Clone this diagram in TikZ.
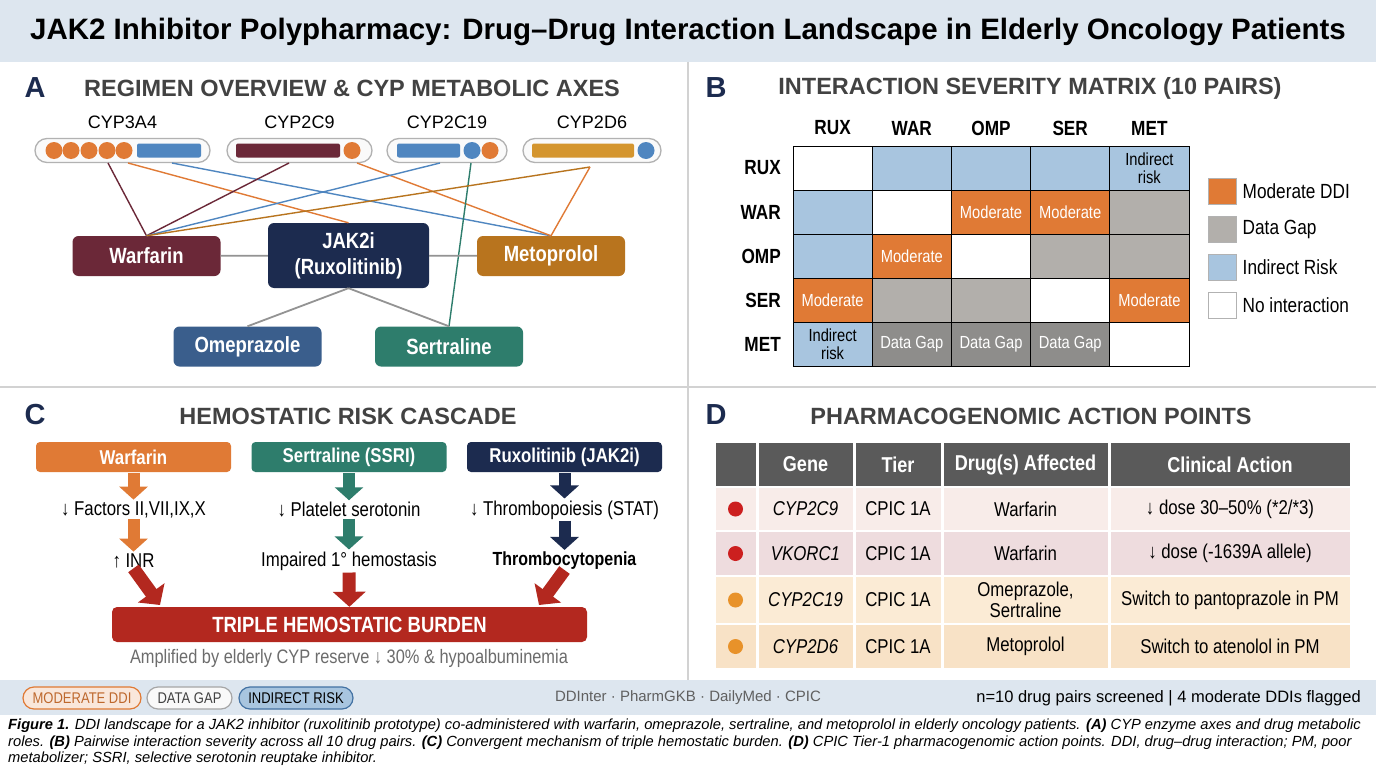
\documentclass[tikz,border=0pt]{standalone}
\usepackage{fontspec}
\setmainfont{Liberation Sans}[FakeStretch=0.84]
\newfontfamily\widefont{Liberation Sans}
\usetikzlibrary{arrows.meta,positioning}

\definecolor{navy}{HTML}{1C2B4F}
\definecolor{wine}{HTML}{6B2838}
\definecolor{amber}{HTML}{B8741E}
\definecolor{ochre}{HTML}{D4952E}
\definecolor{tang}{HTML}{E07A35}
\definecolor{cypblue}{HTML}{4F86C0}
\definecolor{omeblue}{HTML}{3A5E8C}
\definecolor{sertgreen}{HTML}{2E7D6C}
\definecolor{softblue}{HTML}{A8C5DF}
\definecolor{gapgray}{HTML}{B2AFAB}
\definecolor{gapdark}{HTML}{8E8D8B}
\definecolor{burden}{HTML}{B3281F}
\definecolor{hdrgray}{HTML}{5A5A5A}
\definecolor{band}{HTML}{DDE6EF}
\definecolor{inkgray}{HTML}{424242}
\definecolor{rowa}{HTML}{F8ECE9}
\definecolor{rowb}{HTML}{EEDCDE}
\definecolor{rowc}{HTML}{FBEBD5}
\definecolor{rowd}{HTML}{F8E2C6}
\definecolor{dotred}{HTML}{CC1F1F}
\definecolor{dotorange}{HTML}{E8922A}

\newcommand{\fsz}[2]{\fontsize{#1}{#2}\selectfont}

\begin{document}
\begin{tikzpicture}[x=1pt,y=-1pt,inner sep=0pt,
    drug/.style={rounded corners=6pt,text=white,font=\fsz{22}{26}\bfseries,minimum width=148pt,minimum height=40pt,align=center},
    pill/.style={draw=gray!60,fill=gray!4,rounded corners=12pt,line width=1.3pt,minimum height=24pt},
    cyp/.style={font=\widefont\fsz{18}{22}},
    link/.style={line width=1.4pt},
    tie/.style={draw=gray!85,line width=1.8pt},
    ptitle/.style={font=\widefont\fsz{23.5}{27}\bfseries,text=inkgray},
    pletter/.style={font=\widefont\fsz{29}{32}\bfseries,text=navy},
    cell/.style={draw=black,line width=1pt,minimum width=79.2pt,minimum height=44pt,align=center,font=\fsz{17.5}{18}},
    cellN/.style={cell,fill=white,node contents={}},
    cellI/.style={cell,fill=softblue,node contents={}},
    cellR/.style={cell,fill=softblue,node contents={Indirect\\risk}},
    cellM/.style={cell,fill=tang,text=white,node contents={Moderate}},
    cellG/.style={cell,fill=gapgray,node contents={}},
    cellD/.style={cell,fill=gapdark,text=white,node contents={Data Gap}},
    key/.style={draw=gray!60,line width=1pt,minimum width=28pt,minimum height=26pt},
    cbox/.style={rounded corners=4pt,minimum width=195pt,minimum height=30pt,text=white,font=\fsz{20}{24}\bfseries},
    stage/.style={font=\fsz{20}{24}},
    flow/.style={line width=12pt,-{Triangle[length=13pt,width=28pt]},shorten <=1pt,shorten >=2pt},
    hit/.style={draw=burden,line width=13pt,-{Triangle[length=15pt,width=32pt]}},
    th/.style={text=white,font=\fsz{21.5}{24}\bfseries},
    td/.style={font=\fsz{20}{21},align=center},
    dot/.style={circle,minimum size=15pt},
    tag/.style={rounded corners=11pt,minimum height=22pt,line width=1.2pt,font=\fsz{15.5}{18}}]

\useasboundingbox (0,0) rectangle (1376,768);
\fill[white] (0,0) rectangle (1376,768);
\fill[band] (0,0) rectangle (1376,62);
\fill[band] (0,680) rectangle (1376,715);
\draw[gray!35,line width=1.5pt] (688,62) -- (688,680) (0,387) -- (1376,387);

\node[font=\widefont\fsz{29.5}{34}\bfseries] (title) at (688,32) {JAK2 Inhibitor Polypharmacy: Drug–Drug Interaction Landscape in Elderly Oncology Patients};

% A: regimen and CYP axes
\node[pletter] (la) at (35,88) {A};
\node[ptitle] (ta) at (352,88) {REGIMEN OVERVIEW \& CYP METABOLIC AXES};

\node[pill,minimum width=175pt] (p3a4) at (122.5,150.5) {};
\node[pill,minimum width=145pt] (p2c9) at (299.5,150.5) {};
\node[pill,minimum width=120pt] (p2c19) at (447,150.5) {};
\node[pill,minimum width=138pt] (p2d6) at (592,150.5) {};
\node[cyp,above=9pt of p3a4] {CYP3A4};
\node[cyp,above=9pt of p2c9] {CYP2C9};
\node[cyp,above=9pt of p2c19] {CYP2C19};
\node[cyp,above=9pt of p2d6] {CYP2D6};

\foreach \x in {54,71,89,107,124} \fill[tang] (\x,150.5) circle (8.5);
\fill[cypblue,rounded corners=2pt] (137,143.5) rectangle (201,157.5);
\fill[wine,rounded corners=2pt] (236,143.5) rectangle (340,157.5);
\fill[tang] (352,150.5) circle (8.5);
\fill[cypblue,rounded corners=2pt] (397,143.5) rectangle (460,157.5);
\fill[cypblue] (472,150.5) circle (8.5);
\fill[tang] (490,150.5) circle (8.5);
\fill[ochre,rounded corners=2pt] (532,143.5) rectangle (634,157.5);
\fill[cypblue] (646,150.5) circle (8.5);

\node[drug,fill=wine] (war) at (146.5,256) {Warfarin};
\node[drug,fill=navy,minimum width=161pt,minimum height=65pt] (jak) at (348.5,255.5) {JAK2i\\(Ruxolitinib)};
\node[drug,fill=amber] (met) at (551,256) {Metoprolol};
\node[drug,fill=omeblue] (ome) at (247.5,346.5) {Omeprazole};
\node[drug,fill=sertgreen] (ser) at (449,346.5) {Sertraline};

\coordinate (a1) at (108,163);
\coordinate (a2) at (128,163);
\coordinate (a3) at (172,163);
\coordinate (b1) at (289,163);
\coordinate (b2) at (357,163);
\coordinate (c1) at (440,163);
\coordinate (c2) at (471,163);
\coordinate (d1) at (590,167);

\draw[link,wine] (a1) -- (war.north);
\draw[link,tang] (a2) -- (jak.north);
\draw[link,cypblue] (a3) -- (met.north);
\draw[link,wine] (b1) -- (war.north);
\draw[link,tang] (b2) -- (met.north);
\draw[link,cypblue] (c1) -- (war.north);
\draw[link,sertgreen] (c2) -- (ser.north);
\draw[link,amber] (d1) -- (war.north);
\draw[link,tang] (d1) -- (met.north);

\draw[tie] (war) -- (jak);
\draw[tie] (jak) -- (met);
\draw[tie] (jak.south) -- (ome.north);
\draw[tie] (jak.south) -- (ser.north);

% B: severity matrix
\node[pletter] (lb) at (716,88) {B};
\node[ptitle] (tb) at (1030,88) {INTERACTION SEVERITY MATRIX (10 PAIRS)};

\foreach \lbl [count=\j] in {RUX,WAR,OMP,SER,MET} {
  \node[font=\fsz{20.5}{24}\bfseries] (col\j) at ({793+79.2*(\j-0.5)},128) {\lbl};
  \node[font=\fsz{20.5}{24}\bfseries,anchor=east] (row\j) at (781,{146+44*(\j-0.5)}) {\lbl};
}
\foreach \row [count=\i] in {{N,I,I,I,R},{I,N,M,M,G},{I,M,N,G,G},{M,G,G,N,M},{R,D,D,D,N}}
  \foreach \c [count=\j] in \row
    \node[name=m\i\j,at={({793+79.2*(\j-0.5)},{146+44*(\i-0.5)})},cell\c];

\foreach \c/\t [count=\k] in {tang/Moderate DDI,gapgray/Data Gap,softblue/Indirect Risk,white/No interaction} {
  \node[key,fill=\c] (key\k) at (1222,{191+38*(\k-1)}) {};
  \node[right=6pt of key\k,font=\fsz{20.5}{22}] {\t};
}

% C: hemostatic cascade
\node[pletter] (lc) at (35,415) {C};
\node[ptitle] (tc) at (348,416) {HEMOSTATIC RISK CASCADE};

\node[cbox,fill=tang] (cw) at (133.5,457) {Warfarin};
\node[cbox,fill=sertgreen] (cs) at (349,457) {Sertraline (SSRI)};
\node[cbox,fill=navy] (cr) at (564.5,457) {Ruxolitinib (JAK2i)};

\node[stage] (cw1) at (133.5,510) {↓ Factors II,VII,IX,X};
\node[stage] (cs1) at (349,510) {↓ Platelet serotonin};
\node[stage] (cr1) at (564.5,510) {↓ Thrombopoiesis (STAT)};
\node[stage] (cw2) at (133.5,561) {↑ INR};
\node[stage] (cs2) at (349,561) {Impaired 1° hemostasis};
\node[stage,font=\fsz{19}{24}\bfseries] (cr2) at (564.5,561) {Thrombocytopenia};

\draw[flow,tang] (cw) -- (cw1);
\draw[flow,tang] (cw1) -- (cw2);
\draw[flow,sertgreen] (cs) -- (cs1);
\draw[flow,sertgreen] (cs1) -- (cs2);
\draw[flow,navy] (cr) -- (cr1);
\draw[flow,navy] (cr1) -- (cr2);

\node[fill=burden,rounded corners=5pt,minimum width=475pt,minimum height=35pt,text=white,font=\fsz{22}{26}\bfseries] (tri) at (349.5,624.5) {TRIPLE HEMOSTATIC BURDEN};
\coordinate (tl) at (160,605);
\coordinate (tr) at (539,605);
\draw[hit] (cw2.south) -- (tl);
\draw[hit,shorten <=2pt] (cs2) -- (tri);
\draw[hit] (cr2.south) -- (tr);

\node[font=\fsz{19.5}{22},text=gray!85!black] (amp) at (349,658) {Amplified by elderly CYP reserve ↓ 30\% \& hypoalbuminemia};

% D: pharmacogenomic table
\node[pletter] (ld) at (716,415) {D};
\node[ptitle] (td) at (1031,416) {PHARMACOGENOMIC ACTION POINTS};

\foreach \ya/\yb/\col in {443/486/hdrgray,488/530/rowa,532/575/rowb,577/623/rowc,625/668/rowd}
  \foreach \xa/\xb in {714/757,757/854,854/942,942/1109,1109/1351}
    \fill[\col] (\xa+1.5,\ya) rectangle (\xb-1.5,\yb);

\node[th] (hg) at (805.5,464.5) {Gene};
\node[th] (ht) at (898,464.5) {Tier};
\node[th] (hd) at (1025.5,464.5) {Drug(s) Affected};
\node[th] (ha) at (1230,464.5) {Clinical Action};

\foreach \y/\c/\g/\d/\a in {509/dotred/CYP2C9/Warfarin/{↓ dose 30–50\% (*2/*3)},
    553.5/dotred/VKORC1/Warfarin/{↓ dose (-1639A allele)},
    600/dotorange/CYP2C19/{Omeprazole,\\Sertraline}/{Switch to pantoprazole in PM},
    646.5/dotorange/CYP2D6/Metoprolol/{Switch to atenolol in PM}} {
  \node[dot,fill=\c] at (735.5,\y) {};
  \node[td,font=\fsz{20}{21}\itshape] at (805.5,\y) {\g};
  \node[td] at (898,\y) {CPIC 1A};
  \node[td] at (1025.5,\y) {\d};
  \node[td] at (1230,\y) {\a};
}

% footer and caption
\node[tag,draw=tang,fill=tang!18,text=tang!85!black,minimum width=118pt] (fm) at (82,698) {MODERATE DDI};
\node[tag,draw=gray!70,fill=gray!5,text=inkgray,minimum width=85pt] (fg) at (189.5,698) {DATA GAP};
\node[tag,draw=cypblue!85!black,fill=softblue,text=black,minimum width=114pt] (fi) at (296,698) {INDIRECT RISK};
\node[font=\widefont\fsz{15}{19},text=gray!75!black] (src) at (688,698) {DDInter · PharmGKB · DailyMed · CPIC};
\node[font=\widefont\fsz{16.5}{20},anchor=east] (cnt) at (1361,698) {n=10 drug pairs screened | 4 moderate DDIs flagged};

\node[anchor=north west,align=left,font=\widefont\fsz{14.7}{16.5}\itshape] (cap) at (8,719) {\textbf{Figure 1.} DDI landscape for a JAK2 inhibitor (ruxolitinib prototype) co-administered with warfarin, omeprazole, sertraline, and metoprolol in elderly oncology patients. \textbf{(A)} CYP enzyme axes and drug metabolic\\roles. \textbf{(B)} Pairwise interaction severity across all 10 drug pairs. \textbf{(C)} Convergent mechanism of triple hemostatic burden. \textbf{(D)} CPIC Tier-1 pharmacogenomic action points. DDI, drug–drug interaction; PM, poor\\metabolizer; SSRI, selective serotonin reuptake inhibitor.};

\end{tikzpicture}
\end{document}
